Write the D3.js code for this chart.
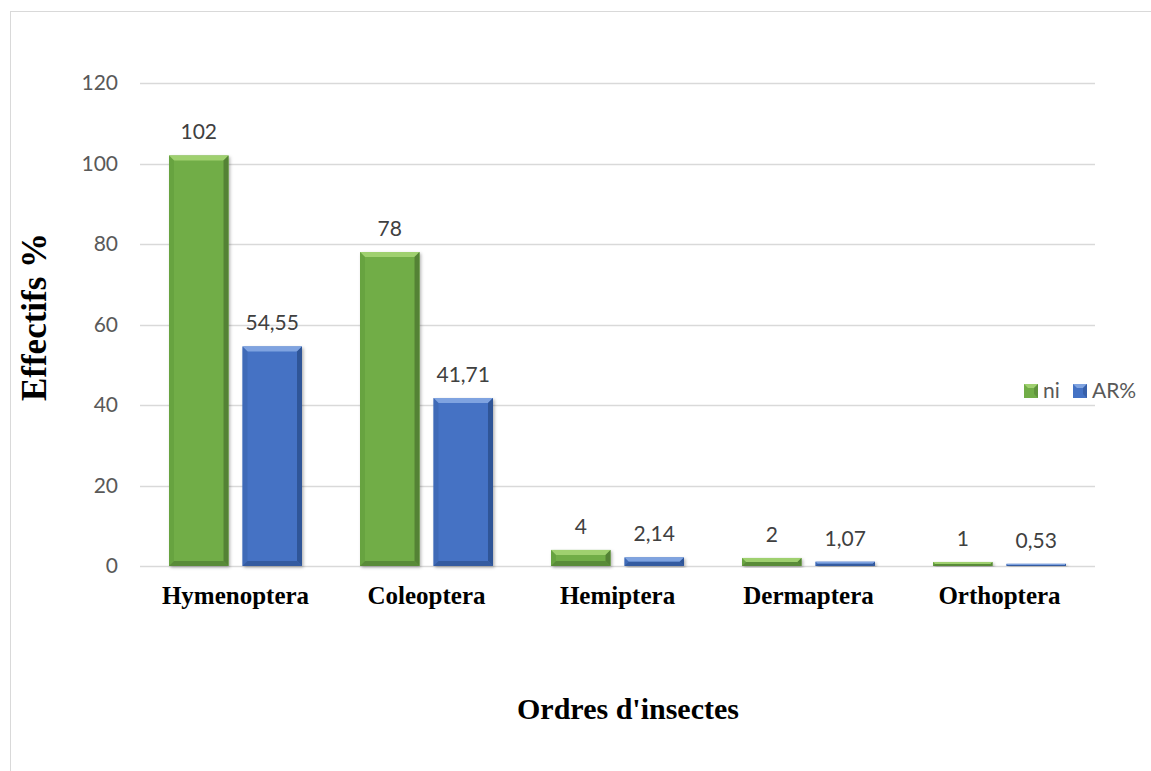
<!DOCTYPE html>
<html>
<head>
<meta charset="utf-8">
<script src="https://cdn.jsdelivr.net/npm/d3@7"></script>
<style>
  html, body { margin: 0; padding: 0; background: #fff; }
  svg { display: block; }
</style>
</head>
<body>
<svg id="chart" width="1151" height="771"></svg>
<script>
// Insect orders and their counts (ni) and relative abundance (AR%)
const categories = ["Hymenoptera", "Coleoptera", "Hemiptera", "Dermaptera", "Orthoptera"];
const niValues = [102, 78, 4, 2, 1];
const arValues = [54.55, 41.71, 2.14, 1.07, 0.53];
const niLabels = ["102", "78", "4", "2", "1"];
const arLabels = ["54,55", "41,71", "2,14", "1,07", "0,53"];
const yTicks = [0, 20, 40, 60, 80, 100, 120];
const seriesNames = ["ni", "AR%"];

const svg = d3.select("#chart");
const W = 1151, H = 771;
const plot = { left: 140, right: 1095, top: 83, bottom: 566 };
const sansFont = "Lato, 'Open Sans', sans-serif";
const serifFont = "'Liberation Serif', 'Times New Roman', serif";

// Outer frame of the chart area
svg.append("rect").attr("x", 10.5).attr("y", 11.5).attr("width", W + 20).attr("height", H + 20)
  .attr("fill", "#fff").attr("stroke", "#d9d9d9").attr("stroke-width", 1);

const x0 = d3.scaleBand().domain(categories).range([plot.left, plot.right]).paddingInner(0).paddingOuter(0);
const x1 = d3.scaleBand().domain(seriesNames).range([29, x0.bandwidth() - 29]).paddingInner(0.19);
const y = d3.scaleLinear().domain([0, 120]).range([plot.bottom, plot.top]);

// Gridlines
svg.append("g").selectAll("line").data(yTicks).join("line")
  .attr("x1", plot.left).attr("x2", plot.right)
  .attr("y1", d => Math.round(y(d)) + 0.5).attr("y2", d => Math.round(y(d)) + 0.5)
  .attr("stroke", "#d9d9d9").attr("stroke-width", 1.3);

// Y axis tick labels
const yAxis = d3.axisLeft(y).tickValues(yTicks).tickSize(0).tickPadding(0);
const gy = svg.append("g").attr("transform", `translate(${plot.left - 22},0)`).call(yAxis);
gy.select(".domain").remove();
gy.selectAll("text").attr("font-family", sansFont).attr("font-size", 21)
  .attr("fill", "#595959");

// X axis category labels
const xAxis = d3.axisBottom(x0).tickSize(0).tickPadding(0);
const gx = svg.append("g").attr("transform", `translate(0,${plot.bottom})`).call(xAxis);
gx.select(".domain").remove();
gx.selectAll("text").attr("y", 38).attr("dy", 0)
  .attr("font-family", serifFont)
  .attr("font-size", 25).attr("font-weight", "bold").attr("fill", "#000");

const colors = {
  ni: { base: "#71ad47", light: "#9fd06f", dark: "#548235", side: "#5f9a3a" },
  "AR%": { base: "#4472c4", light: "#7fa3e0", dark: "#2f5597", side: "#3b64ad" }
};

const defs = svg.append("defs");
const filt = defs.append("filter").attr("id", "shadow").attr("x", "-20%").attr("y", "-20%").attr("width", "140%").attr("height", "140%");
filt.append("feDropShadow").attr("dx", 1.5).attr("dy", 1.5).attr("stdDeviation", 1.5).attr("flood-color", "#000").attr("flood-opacity", 0.3);

const rows = [];
categories.forEach((c, i) => {
  rows.push({ cat: c, series: "ni", value: niValues[i], label: niLabels[i] });
  rows.push({ cat: c, series: "AR%", value: arValues[i], label: arLabels[i] });
});

// Bars with a bevelled edge
const bars = svg.append("g").selectAll("g").data(rows).join("g")
  .attr("transform", d => `translate(${x0(d.cat) + x1(d.series)},0)`);

bars.each(function(d) {
  const g = d3.select(this);
  const w = x1.bandwidth();
  const top = y(d.value), bot = y(0);
  const h = bot - top;
  const c = colors[d.series];
  const b = Math.min(5, h / 2, w / 2);
  g.append("rect").attr("x", 0).attr("y", top).attr("width", w).attr("height", h)
    .attr("fill", c.base).attr("filter", "url(#shadow)");
  if (h < 1) return;
  // top bevel
  g.append("polygon").attr("points", `0,${top} ${w},${top} ${w - b},${top + b} ${b},${top + b}`).attr("fill", c.light);
  // left bevel
  g.append("polygon").attr("points", `0,${top} ${b},${top + b} ${b},${bot - b} 0,${bot}`).attr("fill", c.side).attr("opacity", 0.55);
  // right bevel
  g.append("polygon").attr("points", `${w},${top} ${w - b},${top + b} ${w - b},${bot - b} ${w},${bot}`).attr("fill", c.dark);
  // bottom bevel
  g.append("polygon").attr("points", `0,${bot} ${b},${bot - b} ${w - b},${bot - b} ${w},${bot}`).attr("fill", c.dark).attr("opacity", 0.8);
});

// Value labels
bars.append("text")
  .attr("x", x1.bandwidth() / 2)
  .attr("y", d => y(d.value) - 16)
  .attr("text-anchor", "middle")
  .attr("font-family", sansFont).attr("font-size", 21)
  .attr("fill", "#404040")
  .text(d => d.label);

// Axis titles
svg.append("text")
  .attr("transform", `translate(46,317) rotate(-90)`)
  .attr("text-anchor", "middle")
  .attr("font-family", serifFont)
  .attr("font-size", 35).attr("font-weight", "bold")
  .text("Effectifs %");

svg.append("text")
  .attr("x", 628).attr("y", 719)
  .attr("text-anchor", "middle")
  .attr("font-family", serifFont)
  .attr("font-size", 30).attr("font-weight", "bold")
  .text("Ordres d'insectes");

// Legend
const legend = svg.append("g").attr("transform", "translate(1024,384)");
const legendX = [0, 49];
seriesNames.forEach((s, i) => {
  const g = legend.append("g").attr("transform", `translate(${legendX[i]},0)`);
  const c = colors[s];
  g.append("rect").attr("width", 14).attr("height", 14).attr("fill", c.base);
  g.append("polygon").attr("points", "0,0 14,0 10,4 4,4").attr("fill", c.light);
  g.append("polygon").attr("points", "14,0 14,14 10,10 10,4").attr("fill", c.dark).attr("opacity", 0.6);
  g.append("text").attr("x", 19).attr("y", 14)
    .attr("font-family", sansFont).attr("font-size", 21).attr("fill", "#595959")
    .text(s);
});
</script>
</body>
</html>
